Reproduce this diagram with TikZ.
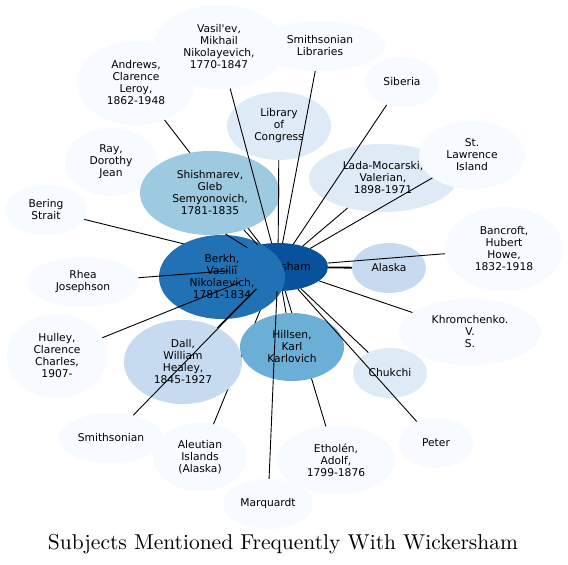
\documentclass[tikz,border=0pt]{standalone}
\usepackage{fontspec}
\newfontfamily\nodofont{DejaVu Sans}
\newfontfamily\titulofont{lmroman10-regular}[Extension=.otf]
\usetikzlibrary{shapes.geometric}
\definecolor{azul1}{HTML}{F7FBFF}
\definecolor{azul2}{HTML}{DEEBF7}
\definecolor{azul3}{HTML}{C6DBEF}
\definecolor{azul4}{HTML}{9ECAE1}
\definecolor{azul5}{HTML}{6BAED6}
\definecolor{azul7}{HTML}{2171B5}
\definecolor{azul8}{HTML}{08519C}
\tikzstyle{tema}=[ellipse,draw=none,inner sep=0pt,align=center,font={\nodofont\fontsize{10.7}{12}\selectfont}]
\tikzstyle{arista}=[draw=black,line width=0.9pt]
\tikzstyle{titulo}=[anchor=base,font={\titulofont\fontsize{21.5}{24}\selectfont}]

\begin{document}
\begin{tikzpicture}[x=1pt,y=-1pt]
	\useasboundingbox[fill=white] (0,0) rectangle (568,565);
	\node[tema,fill=azul8,minimum width=100,minimum height=48](wick) at (278,267){Wickersham};
	\node[tema,fill=azul1,minimum width=82,minimum height=50](bering) at (46,210){Bering\\Strait};
	\node[tema,fill=azul1,minimum width=94,minimum height=68](aleutian) at (200,457){Aleutian\\Islands\\(Alaska)};
	\node[tema,fill=azul1,minimum width=92,minimum height=68](ray) at (111,162){Ray,\\Dorothy\\Jean};
	\node[tema,fill=azul1,minimum width=118,minimum height=84](andrews) at (136,83){Andrews,\\Clarence\\Leroy,\\1862-1948};
	\node[tema,fill=azul1,minimum width=118,minimum height=68](etholen) at (336,460){Etholén,\\Adolf,\\1799-1876};
	\draw[arista] (wick) -- (bering);
	\draw[arista] (wick) -- (aleutian);
	\draw[arista] (wick) -- (andrews);
	\draw[arista] (wick) -- (etholen);
	\node[tema,fill=azul7,minimum width=126,minimum height=84](berkh) at (222,277){Berkh,\\Vasiliĭ\\Nikolaevich,\\1781-1834};
	\node[tema,fill=azul3,minimum width=118,minimum height=84](dall) at (183,362){Dall,\\William\\Healey,\\1845-1927};
	\node[tema,fill=azul5,minimum width=104,minimum height=68](hillsen) at (292,347){Hillsen,\\Karl\\Karlovich};
	\draw[arista] (wick) -- (ray);
	\node[tema,fill=azul4,minimum width=140,minimum height=84](shish) at (210,193){Shishmarev,\\Gleb\\Semyonovich,\\1781-1835};
	\node[tema,fill=azul1,minimum width=132,minimum height=84](vasilev) at (219,47){Vasil'ev,\\Mikhail\\Nikolayevich,\\1770-1847};
	\node[tema,fill=azul1,minimum width=130,minimum height=50](smithlib) at (320,46){Smithsonian\\Libraries};
	\node[tema,fill=azul2,minimum width=104,minimum height=68](lib) at (279,126){Library\\of\\Congress};
	\node[tema,fill=azul1,minimum width=74,minimum height=50](siberia) at (402,82){Siberia};
	\node[tema,fill=azul2,minimum width=148,minimum height=68](lada) at (383,178){Lada-Mocarski,\\Valerian,\\1898-1971};
	\node[tema,fill=azul1,minimum width=106,minimum height=68](stlaw) at (472,155){St.\\Lawrence\\Island};
	\node[tema,fill=azul1,minimum width=118,minimum height=84](bancroft) at (504,249){Bancroft,\\Hubert\\Howe,\\1832-1918};
	\node[tema,fill=azul3,minimum width=74,minimum height=50](alaska) at (389,268){Alaska};
	\node[tema,fill=azul1,minimum width=112,minimum height=50](rhea) at (83,282){Rhea\\Josephson};
	\node[tema,fill=azul1,minimum width=142,minimum height=66](khrom) at (470,332){Khromchenko.\\V.\\S.};
	\node[tema,fill=azul2,minimum width=74,minimum height=50](chukchi) at (390,373){Chukchi};
	\node[tema,fill=azul1,minimum width=100,minimum height=84](hulley) at (57,356){Hulley,\\Clarence\\Charles,\\1907-};
	\node[tema,fill=azul1,minimum width=104,minimum height=50](smiths) at (111,438){Smithsonian};
	\node[tema,fill=azul1,minimum width=90,minimum height=50](marquardt) at (268,504){Marquardt};
	\node[tema,fill=azul1,minimum width=74,minimum height=50](peter) at (436,443){Peter};
	\draw[arista] (wick) -- (shish);
	\draw[arista] (wick) -- (vasilev);
	\draw[arista] (wick) -- (smithlib);
	\draw[arista] (wick) -- (lib);
	\draw[arista] (wick) -- (siberia);
	\draw[arista] (wick) -- (lada);
	\draw[arista] (wick) -- (stlaw);
	\draw[arista] (wick) -- (bancroft);
	\draw[arista,line width=1.8pt] (wick) -- (alaska);
	\draw[arista] (wick) -- (khrom);
	\draw[arista] (wick) -- (chukchi);
	\draw[arista] (wick) -- (peter);
	\draw[arista] (wick) -- (marquardt);
	\draw[arista] (wick) -- (hillsen);
	\draw[arista] (wick) -- (smiths);
	\draw[arista] (wick) -- (dall);
	\draw[arista] (wick) -- (hulley);
	\draw[arista] (wick) -- (rhea);
	\node[titulo](titulo) at (283,549){Subjects Mentioned Frequently With Wickersham};
\end{tikzpicture}
\end{document}
